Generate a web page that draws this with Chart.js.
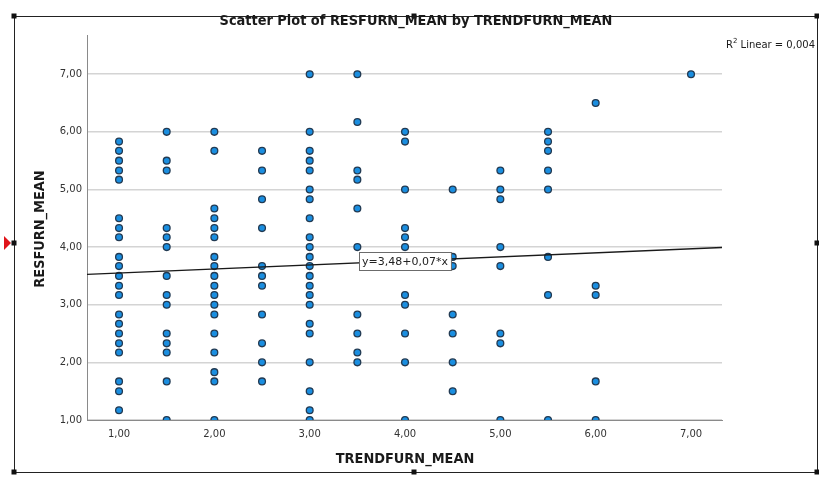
<!DOCTYPE html>
<html>
<head>
<meta charset="utf-8">
<script src="https://cdn.jsdelivr.net/npm/chart.js@4"></script>
<style>
  html, body { margin: 0; padding: 0; background: #ffffff; }
  #wrap { width: 819px; height: 479px; position: relative; }
</style>
</head>
<body>
<div id="wrap"><canvas id="c" width="819" height="479"></canvas></div>
<script>
// RESFURN_MEAN values observed at each TRENDFURN_MEAN level
const trendLevels = [1, 1.5, 2, 2.5, 3, 3.5, 4, 4.5, 5, 5.5, 6, 7];
const resAt1_0 = [5.83, 5.67, 5.5, 5.33, 5.17, 4.5, 4.33, 4.17, 3.83, 3.67, 3.5, 3.33, 3.17, 2.83, 2.67, 2.5, 2.33, 2.17, 1.67, 1.5, 1.17];
const resAt1_5 = [6, 5.5, 5.33, 4.33, 4.17, 4, 3.5, 3.17, 3, 2.5, 2.33, 2.17, 1.67, 1];
const resAt2_0 = [6, 5.67, 4.67, 4.5, 4.33, 4.17, 3.83, 3.67, 3.5, 3.33, 3.17, 3, 2.83, 2.5, 2.17, 1.83, 1.67, 1];
const resAt2_5 = [5.67, 5.33, 4.83, 4.33, 3.67, 3.5, 3.33, 2.83, 2.33, 2, 1.67];
const resAt3_0 = [7, 6, 5.67, 5.5, 5.33, 5, 4.83, 4.5, 4.17, 4, 3.83, 3.67, 3.5, 3.33, 3.17, 3, 2.67, 2.5, 2, 1.5, 1.17, 1];
const resAt3_5 = [7, 6.17, 5.33, 5.17, 4.67, 4, 2.83, 2.5, 2.17, 2];
const resAt4_0 = [6, 5.83, 5, 4.33, 4.17, 4, 3.17, 3, 2.5, 2, 1];
const resAt4_5 = [5, 3.83, 3.67, 2.83, 2.5, 2, 1.5];
const resAt5_0 = [5.33, 5, 4.83, 4, 3.67, 2.5, 2.33, 1];
const resAt5_5 = [6, 5.83, 5.67, 5.33, 5, 3.83, 3.17, 1];
const resAt6_0 = [6.5, 3.33, 3.17, 1.67, 1];
const resAt7_0 = [7];
const resByLevel = [resAt1_0, resAt1_5, resAt2_0, resAt2_5, resAt3_0, resAt3_5,
                    resAt4_0, resAt4_5, resAt5_0, resAt5_5, resAt6_0, resAt7_0];

// Linear fit: y = 3,48 + 0,07*x, R² = 0,004
const fitIntercept = 3.48;
const fitSlope = 0.07;
const rSquared = 0.004;
const fitLabelAtX = 4;

// Axis ranges and ticks
const xTicks = [1, 2, 3, 4, 5, 6, 7];
const yTicks = [1, 2, 3, 4, 5, 6, 7];
const xRange = [0.664, 7.325];
const yRange = [1, 7.68];

const chartTitle = 'Scatter Plot of RESFURN_MEAN by TRENDFURN_MEAN';
const xTitle = 'TRENDFURN_MEAN';
const yTitle = 'RESFURN_MEAN';

const fmt = v => v.toFixed(2).replace('.', ',');
const fmt3 = v => v.toFixed(3).replace('.', ',');
const fitLabel = 'y=' + fmt(fitIntercept) + '+' + fmt(fitSlope) + '*x';

const points = [];
trendLevels.forEach((x, i) => resByLevel[i].forEach(y => points.push({ x: x, y: y })));

const fitLine = xRange.map(x => ({ x: x, y: fitIntercept + fitSlope * x }));

const headFont = "bold 14.4px 'DejaVu Sans Condensed', 'Liberation Sans', sans-serif";

// Titles, fit label and the surrounding output frame
const decorations = {
  id: 'decorations',
  afterDraw(chart) {
    const ctx = chart.ctx;
    const xs = chart.scales.x, ys = chart.scales.y;
    ctx.save();

    // frame with selection handles
    ctx.strokeStyle = '#222';
    ctx.lineWidth = 1;
    ctx.strokeRect(14.5, 16.5, 803, 456);
    ctx.fillStyle = '#111';
    [[14, 16], [414, 16], [817, 16], [14, 243], [817, 243], [14, 472], [414, 472], [817, 472]]
      .forEach(([hx, hy]) => ctx.fillRect(hx - 2.5, hy - 2.5, 5, 5));
    ctx.fillStyle = '#e0141a';
    ctx.beginPath();
    ctx.moveTo(4, 236); ctx.lineTo(11, 243); ctx.lineTo(4, 250); ctx.closePath();
    ctx.fill();

    // chart title and axis titles
    ctx.fillStyle = '#1a1a1a';
    ctx.font = headFont;
    ctx.textAlign = 'center';
    ctx.textBaseline = 'middle';
    ctx.fillText(chartTitle, 416, 21);
    ctx.fillText(xTitle, 405, 459);
    ctx.save();
    ctx.translate(40, 229);
    ctx.rotate(-Math.PI / 2);
    ctx.fillText(yTitle, 0, 0);
    ctx.restore();

    // R² note
    ctx.font = "10px 'DejaVu Sans', sans-serif";
    ctx.textAlign = 'left';
    ctx.textBaseline = 'alphabetic';
    const rest = ' Linear = ' + fmt3(rSquared);
    const wR = ctx.measureText('R').width;
    const wRest = ctx.measureText(rest).width;
    ctx.font = "7px 'DejaVu Sans', sans-serif";
    const w2 = ctx.measureText('2').width;
    const startX = 815 - (wR + w2 + wRest);
    ctx.font = "10px 'DejaVu Sans', sans-serif";
    ctx.fillText('R', startX, 48);
    ctx.font = "7px 'DejaVu Sans', sans-serif";
    ctx.fillText('2', startX + wR, 43);
    ctx.font = "10px 'DejaVu Sans', sans-serif";
    ctx.fillText(rest, startX + wR + w2, 48);

    // fit equation box on the line
    const cx = xs.getPixelForValue(fitLabelAtX);
    const cy = ys.getPixelForValue(fitIntercept + fitSlope * fitLabelAtX);
    ctx.font = "11px 'DejaVu Sans', sans-serif";
    const tw = ctx.measureText(fitLabel).width;
    const bw = tw + 6, bh = 18;
    const bx = Math.round(cx - bw / 2) + 0.5, by = Math.round(cy - bh / 2) + 0.5;
    ctx.fillStyle = '#ffffff';
    ctx.fillRect(bx, by, bw, bh);
    ctx.strokeStyle = '#6b6b6b';
    ctx.strokeRect(bx, by, bw, bh);
    ctx.fillStyle = '#222';
    ctx.textAlign = 'center';
    ctx.textBaseline = 'middle';
    ctx.fillText(fitLabel, cx, cy + 1);

    ctx.restore();
  }
};

new Chart(document.getElementById('c'), {
  type: 'scatter',
  data: {
    datasets: [
      {
        type: 'line',
        data: fitLine,
        borderColor: '#1a1a1a',
        borderWidth: 1.3,
        pointRadius: 0,
        fill: false,
        order: 0
      },
      {
        data: points,
        backgroundColor: '#1a8ee0',
        borderColor: '#223a52',
        borderWidth: 1.3,
        pointRadius: 3.4,
        order: 1
      }
    ]
  },
  options: {
    responsive: false,
    animation: false,
    devicePixelRatio: 1,
    layout: { padding: { top: 35, right: 97, bottom: 0, left: 0 } },
    plugins: {
      legend: { display: false },
      title: { display: false },
      tooltip: { enabled: false }
    },
    scales: {
      x: {
        type: 'linear',
        min: xRange[0],
        max: xRange[1],
        afterBuildTicks: s => { s.ticks = xTicks.map(v => ({ value: v })); },
        afterFit: s => { s.height = 59; },
        grid: { display: false, drawTicks: false },
        border: { display: true, color: '#8a8a8a', width: 1 },
        ticks: {
          padding: 8,
          color: '#333',
          font: { family: "'DejaVu Sans', sans-serif", size: 10 },
          callback: v => fmt(v),
          maxRotation: 0
        }
      },
      y: {
        type: 'linear',
        min: yRange[0],
        max: yRange[1],
        afterBuildTicks: s => { s.ticks = yTicks.map(v => ({ value: v })); },
        afterFit: s => { s.width = 87; },
        grid: { color: '#d4d4d4', lineWidth: 1.5, drawTicks: false },
        border: { display: true, color: '#8a8a8a', width: 1 },
        ticks: {
          padding: 5,
          color: '#333',
          font: { family: "'DejaVu Sans', sans-serif", size: 10 },
          callback: v => fmt(v)
        }
      }
    }
  },
  plugins: [decorations]
});
</script>
</body>
</html>
